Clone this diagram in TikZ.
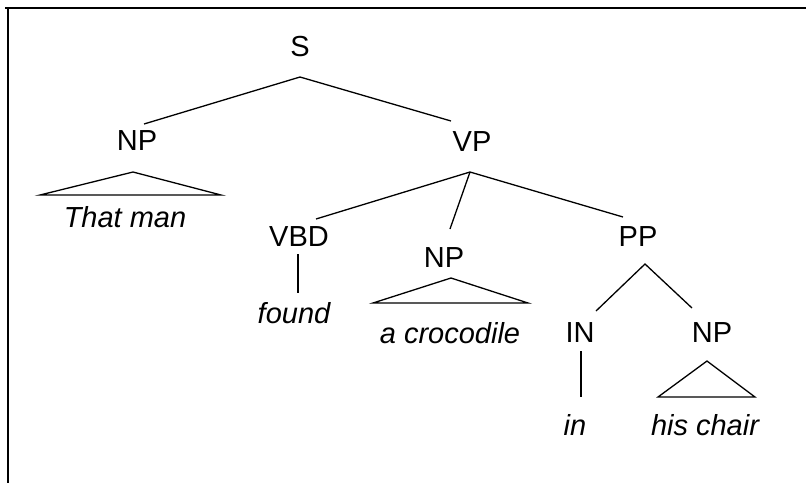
\documentclass[tikz,border=0pt]{standalone}
\usepackage{fontspec}
\setmainfont{Liberation Sans}

\begin{document}
\begin{tikzpicture}[x=1pt, y=-1pt, line width=1.3pt,
  every node/.style={font=\fontsize{29}{33}\selectfont, inner sep=0pt},
  word/.style={font=\fontsize{29}{33}\selectfont\itshape}]
  \useasboundingbox (0,0) rectangle (806,483);

  % Draw the frame (top and left edges)
  \draw (5,8) -- (806,8);
  \draw (8,8) -- (8,483);

  % Draw the category labels
  \node (S) at (300,47) {S};
  \node (NPsubj) at (137,141) {NP};
  \node (VP) at (472,142) {VP};
  \node (VBD) at (299,237) {VBD};
  \node (NPobj) at (444,258) {NP};
  \node (PP) at (638,237) {PP};
  \node (IN) at (580,333) {IN};
  \node (NPpp) at (712,333) {NP};

  % Draw the words
  \node[word] (thatman) at (125,217) {That man};
  \node[word] (found) at (294,313) {found};
  \node[word] (crocodile) at (450,333) {a crocodile};
  \node[word] (in) at (575,425) {in};
  \node[word] (hischair) at (705,425) {his chair};

  % Attachment points of the branches
  \coordinate (S-b) at (300,77);
  \coordinate (NPsubj-t) at (144,124);
  \coordinate (VP-t) at (451,121);
  \coordinate (VP-b) at (470,172);
  \coordinate (VBD-t) at (316,219);
  \coordinate (VBD-b) at (298,254);
  \coordinate (found-t) at (298,293);
  \coordinate (NPobj-t) at (450,229);
  \coordinate (PP-t) at (623,217);
  \coordinate (PP-b) at (645,264);
  \coordinate (IN-t) at (596,311);
  \coordinate (IN-b) at (581,351);
  \coordinate (in-t) at (581,397);
  \coordinate (NPpp-t) at (692,308);

  % Draw the branches
  \draw (NPsubj-t) -- (S-b) -- (VP-t);
  \draw (VBD-t) -- (VP-b) -- (PP-t);
  \draw (VP-b) -- (NPobj-t);
  \draw (VBD-b) -- (found-t);
  \draw (IN-t) -- (PP-b) -- (NPpp-t);
  \draw (IN-b) -- (in-t);

  % Draw the triangles over the phrases
  \draw (133,172) -- (221,195) -- (40,195) -- cycle;
  \draw (451,278) -- (528,303) -- (373,303) -- cycle;
  \draw (707,361) -- (755,397) -- (658,397) -- cycle;
\end{tikzpicture}
\end{document}
